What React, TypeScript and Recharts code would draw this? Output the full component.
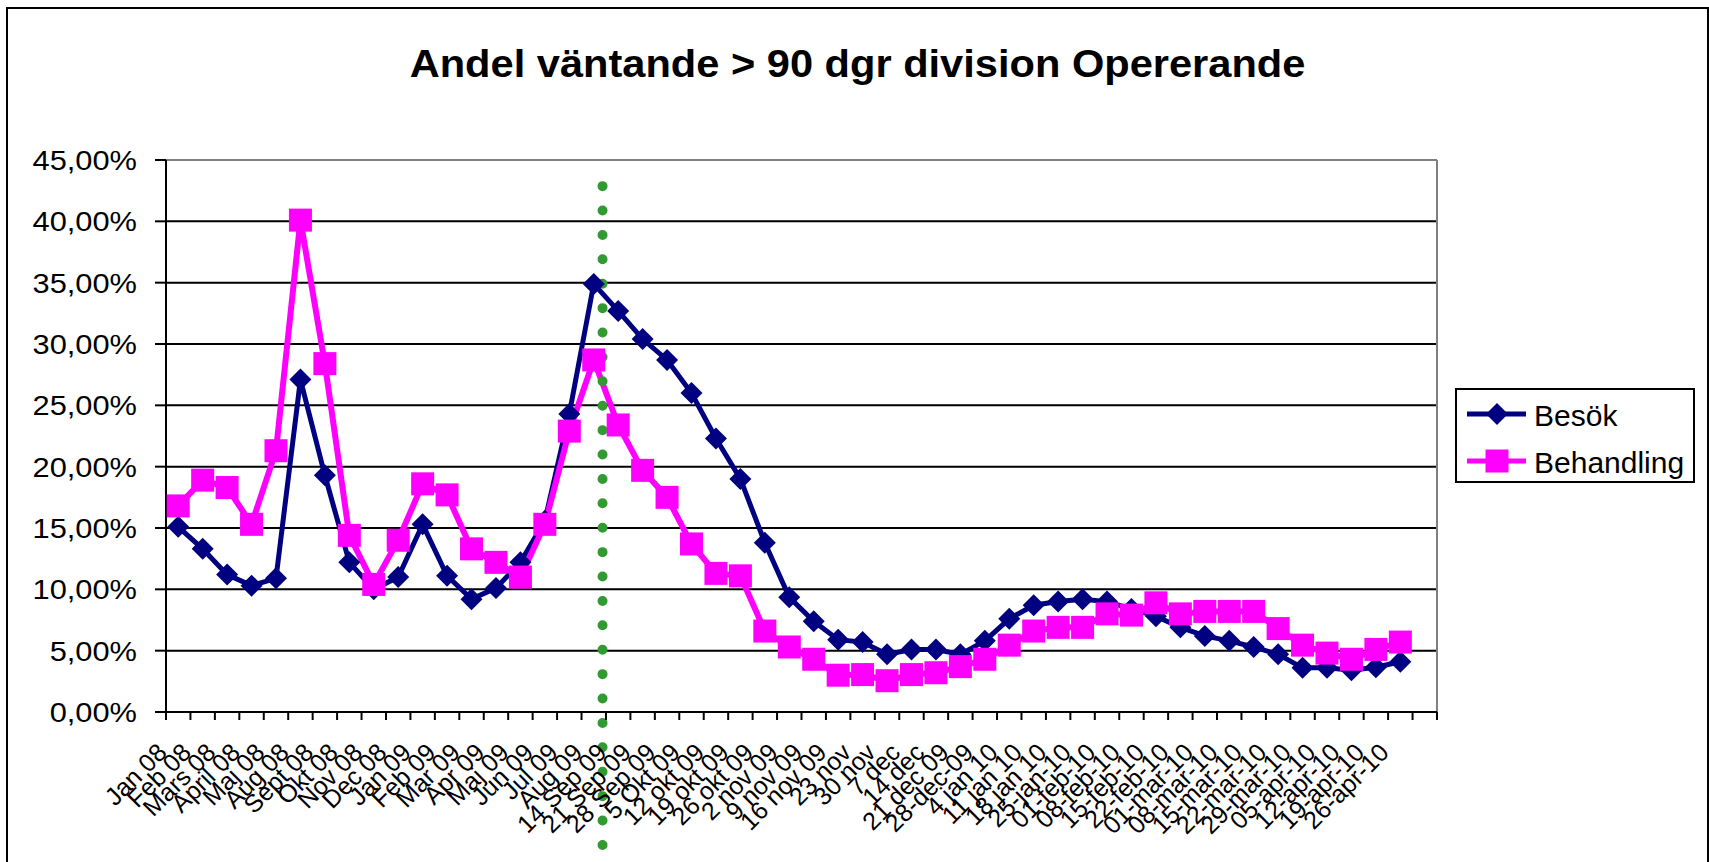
import React from 'react';
import { LineChart, Line, XAxis, YAxis, CartesianGrid, Legend, ReferenceLine } from 'recharts';

// ---------- data ----------
const CATEGORIES = [
  'Jan 08', 'Feb 08', 'Mars 08', 'April 08', 'Maj 08', 'Aug 08', 'Sept 08', 'Okt 08', 'Nov 08', 'Dec 08',
  'Jan 09', 'Feb 09', 'Mar 09', 'Apr 09', 'Maj 09', 'Jun 09', 'Jul 09', 'Aug 09',
  '14 Sep 09', '21 Sep 09', '28 Sep 09', '5 Okt 09', '12 okt 09', '19 okt 09', '26 okt 09',
  '2 nov 09', '9 nov 09', '16 nov 09', '23 nov', '30 nov', '7 dec', '14 dec', '21 dec 09', '28-dec-09',
  '4 jan 10', '11 jan 10', '18 jan 10', '25-jan-10', '01-feb-10', '08-feb-10', '15-feb-10', '22-feb-10',
  '01-mar-10', '08-mar-10', '15-mar-10', '22-mar-10', '29-mar-10', '05-apr-10', '12-apr-10', '19-apr-10',
  '26-apr-10', '',
];

const BESOK = [
  15.1, 13.3, 11.2, 10.3, 10.9, 27.1, 19.3, 12.2, 10.0, 11.0,
  15.3, 11.1, 9.2, 10.1, 12.2, 15.6, 24.3, 34.9,
  32.7, 30.4, 28.7, 26.0, 22.3, 19.0, 13.8,
  9.35, 7.4, 5.9, 5.7, 4.7, 5.1, 5.1, 4.7, 5.8,
  7.6, 8.7, 9.0, 9.2, 9.0, 8.4, 7.8, 6.9,
  6.2, 5.8, 5.3, 4.7, 3.6, 3.6, 3.4, 3.65,
  4.1, null,
];

const BEHANDLING = [
  16.8, 18.9, 18.3, 15.3, 21.3, 40.1, 28.4, 14.4, 10.4, 14.0,
  18.6, 17.7, 13.3, 12.2, 11.0, 15.3, 22.9, 28.7,
  23.4, 19.7, 17.5, 13.7, 11.3, 11.1, 6.6,
  5.3, 4.3, 3.0, 3.05, 2.55, 3.05, 3.2, 3.7, 4.3,
  5.45, 6.6, 6.9, 6.9, 8.0, 7.9, 8.9, 8.0,
  8.2, 8.2, 8.2, 6.8, 5.45, 4.8, 4.3, 5.1,
  5.7, null,
];

const Y_TICKS = [0, 5, 10, 15, 20, 25, 30, 35, 40, 45];
const TITLE = 'Andel väntande > 90 dgr division Opererande';
const SERIES_NAMES = ['Besök', 'Behandling'];

// green dotted annotation marker (category units / value units)
const MARKER_X = 17.86;
const MARKER_TOP = 42.87;
const MARKER_BOTTOM = -16;

// ---------- table built from arrays ----------
const data = CATEGORIES.map((c, i) => ({
  x: i + 0.5,
  label: c,
  besok: BESOK[i],
  behandling: BEHANDLING[i],
}));
const X_TICKS = Array.from({ length: CATEGORIES.length * 2 + 1 }, (_, k) => k / 2);

// ---------- styles ----------
const FONT = '"Liberation Sans", Arial, Helvetica, sans-serif';
const NAVY = '#000080';
const MAGENTA = '#FF00FF';
const GREEN = '#339933';

const fmtPct = (v: number) => v.toFixed(2).replace('.', ',') + '%';

const Diamond = (p: any) => {
  const { cx, cy, value, index } = p;
  if (cx == null || cy == null || value == null) return <g key={`d${index}`} />;
  const r = 11;
  return (
    <polygon
      key={`d${index}`}
      points={`${cx},${cy - r} ${cx + r},${cy} ${cx},${cy + r} ${cx - r},${cy}`}
      fill={NAVY}
    />
  );
};

const Square = (p: any) => {
  const { cx, cy, value, index } = p;
  if (cx == null || cy == null || value == null) return <g key={`s${index}`} />;
  const s = 23;
  return <rect key={`s${index}`} x={cx - s / 2} y={cy - s / 2} width={s} height={s} fill={MAGENTA} />;
};

const YTick = (p: any) => {
  const { x, y, payload } = p;
  return (
    <g transform={`translate(${x},${y}) scale(1.1,1)`}>
      <text x={0} y={0} dy="0.36em" textAnchor="end" fontSize={28} fontFamily={FONT} fill="#000">
        {fmtPct(payload.value)}
      </text>
    </g>
  );
};

const XTick = (p: any) => {
  const { x, y, payload } = p;
  const v = payload.value as number;
  if (Number.isInteger(v)) {
    return <line x1={x} x2={x} y1={y} y2={y + 8} stroke="#000" strokeWidth={2} />;
  }
  const label = CATEGORIES[Math.floor(v)];
  if (!label) return <g />;
  return (
    <text
      transform={`translate(${x - 10},${y + 42}) rotate(-45)`}
      textAnchor="end"
      fontSize={25}
      fontFamily={FONT}
      fill="#000"
    >
      {label}
    </text>
  );
};

const LegendBox = (props: any) => {
  const payload = (props.payload || []) as any[];
  const rows = SERIES_NAMES.map((name, i) => {
    const entry = payload.find((e) => e.value === name) || { value: name, color: i === 0 ? NAVY : MAGENTA };
    return { name: entry.value, color: entry.color };
  });
  return (
    <div
      style={{
        width: 240,
        height: 95,
        border: '2px solid #000',
        boxSizing: 'border-box',
        background: '#fff',
      }}
    >
      <svg width={236} height={91} style={{ display: 'block' }}>
        {rows.map((r, i) => {
          const cy = i === 0 ? 24 : 71;
          return (
            <g key={r.name}>
              <line x1={10} x2={69} y1={cy} y2={cy} stroke={r.color} strokeWidth={5} />
              {i === 0 ? (
                <polygon points={`40,${cy - 11} 51,${cy} 40,${cy + 11} 29,${cy}`} fill={r.color} />
              ) : (
                <rect x={28.5} y={cy - 11.5} width={23} height={23} fill={r.color} />
              )}
              <text x={77} y={cy + 12} fontSize={30} fontFamily={FONT} fill="#000">
                {r.name}
              </text>
            </g>
          );
        })}
      </svg>
    </div>
  );
};

export default function App() {
  return (
    <div
      style={{
        position: 'absolute',
        left: 0,
        top: 0,
        width: 1709,
        height: 862,
        overflow: 'hidden',
        background: '#fff',
      }}
    >
      <div
        style={{
          position: 'absolute',
          left: 6,
          top: 7,
          width: 1703,
          height: 1000,
          border: '2px solid #000',
          boxSizing: 'border-box',
        }}
      />
      <svg
        width={1709}
        height={100}
        style={{ position: 'absolute', left: 0, top: 0, display: 'block' }}
      >
        <g transform="translate(857.5,76.7) scale(1.067,1)">
          <text x={0} y={0} textAnchor="middle" fontSize={39} fontWeight="bold" fontFamily={FONT} fill="#000">
            {TITLE}
          </text>
        </g>
      </svg>
      <div style={{ position: 'absolute', left: 0, top: 0 }}>
        <LineChart
          width={1709}
          height={900}
          data={data}
          margin={{ top: 160, right: 272, bottom: 38, left: 0 }}
        >
          <CartesianGrid vertical={false} stroke="#000" strokeWidth={2} />
          <XAxis
            type="number"
            dataKey="x"
            domain={[0, CATEGORIES.length]}
            ticks={X_TICKS}
            interval={0}
            allowDecimals
            height={150}
            tickSize={0}
            tickMargin={0}
            tickLine={false}
            axisLine={{ stroke: '#000', strokeWidth: 2 }}
            tick={<XTick />}
          />
          <YAxis
            type="number"
            domain={[0, 45]}
            ticks={Y_TICKS}
            interval={0}
            width={166}
            tickSize={11}
            tickMargin={18}
            axisLine={{ stroke: '#000', strokeWidth: 2 }}
            tickLine={{ stroke: '#000', strokeWidth: 2 }}
            tick={<YTick />}
          />
          <ReferenceLine y={45} stroke="#808080" strokeWidth={2} ifOverflow="visible" />
          <ReferenceLine x={CATEGORIES.length} stroke="#808080" strokeWidth={2} ifOverflow="visible" />
          <Line
            dataKey="besok"
            name={SERIES_NAMES[0]}
            stroke={NAVY}
            strokeWidth={5}
            dot={Diamond}
            activeDot={false}
            isAnimationActive={false}
            connectNulls={false}
          />
          <Line
            dataKey="behandling"
            name={SERIES_NAMES[1]}
            stroke={MAGENTA}
            strokeWidth={6}
            dot={Square}
            activeDot={false}
            isAnimationActive={false}
            connectNulls={false}
          />
          <ReferenceLine
            segment={[
              { x: MARKER_X, y: MARKER_TOP },
              { x: MARKER_X, y: MARKER_BOTTOM },
            ]}
            stroke={GREEN}
            strokeWidth={10}
            strokeLinecap="round"
            strokeDasharray="0 24.4"
            ifOverflow="visible"
          />
          <Legend
            layout="horizontal"
            verticalAlign="middle"
            align="center"
            content={<LegendBox />}
            wrapperStyle={{ position: 'absolute', left: 1455, top: 388, width: 240, height: 95 }}
          />
        </LineChart>
      </div>
    </div>
  );
}
